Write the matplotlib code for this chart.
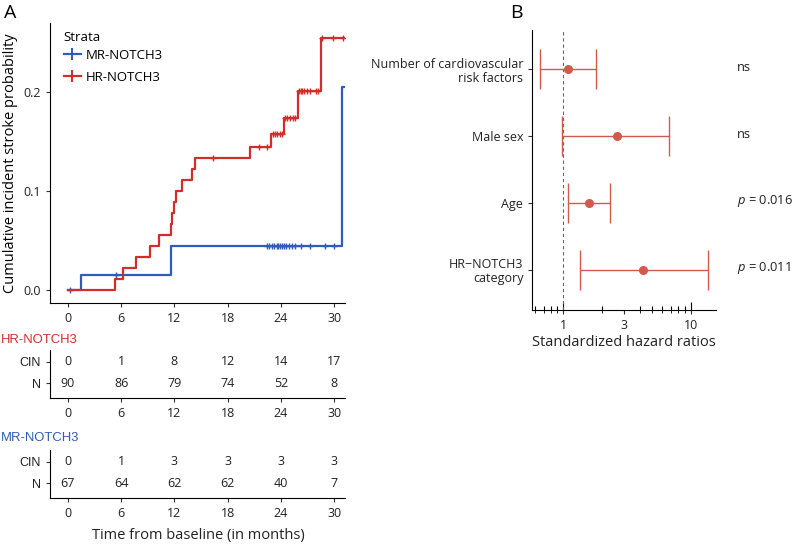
import numpy as np
import matplotlib
matplotlib.use("Agg")
import matplotlib.pyplot as plt
from matplotlib.ticker import FixedLocator, LogLocator, NullFormatter, FixedFormatter

plt.rcParams["font.family"] = ["Open Sans", "DejaVu Sans"]
plt.rcParams["mathtext.fontset"] = "custom"
plt.rcParams["mathtext.it"] = "Open Sans:italic"
plt.rcParams["mathtext.rm"] = "Open Sans"

BLUE = "#2f5cb8"
RED = "#cf2e2a"
SALMON = "#d05a4c"

# --- cumulative incidence curves ---
mr_times = [0, 1.46, 11.6, 30.85]
mr_cum = [0, 0.0149, 0.0448, 0.205]
mr_censor = [0.26, 5.4, 22.4, 22.7, 23.0, 23.2, 23.5, 23.7, 23.9, 24.1, 24.3,
             24.6, 24.9, 25.2, 25.6, 26.2, 27.3, 28.9, 30.0]
mr_end = 31.2

hr_times = [0, 5.26, 6.27, 7.7, 9.27, 10.25, 11.6, 11.7, 11.9, 12.2, 12.9,
            14.0, 14.3, 20.5, 22.86, 24.3, 25.9, 28.5]
hr_cum = [0, 0.0111, 0.0222, 0.0333, 0.0444, 0.0556, 0.0667, 0.0778, 0.0889,
          0.1, 0.111, 0.122, 0.133, 0.1445, 0.157, 0.173, 0.201, 0.2537]
hr_censor = [16.3, 21.5, 22.4, 23.1, 23.3, 23.6, 23.9, 24.1, 24.5, 24.7, 25.0,
             25.3, 25.6, 26.05, 26.2, 26.4, 26.6, 26.9, 27.3, 27.9, 28.2, 28.6,
             29.9, 31.0]
hr_end = 31.2

# --- risk tables ---
months = [0, 6, 12, 18, 24, 30]
hr_cin = [0, 1, 8, 12, 14, 17]
hr_n = [90, 86, 79, 74, 52, 8]
mr_cin = [0, 1, 3, 3, 3, 3]
mr_n = [67, 64, 62, 62, 40, 7]

# --- forest plot ---
factors = ["Number of cardiovascular\nrisk factors", "Male sex", "Age",
           "HR\u2212NOTCH3\ncategory"]
hr_est = [1.09, 2.65, 1.58, 4.22]
hr_lo = [0.656, 0.97, 1.08, 1.36]
hr_hi = [1.79, 6.78, 2.32, 13.6]
p_labels = ["ns", "ns", "$p$ = 0.016", "$p$ = 0.011"]

W, H = 793, 544
fig = plt.figure(figsize=(W / 100, H / 100), dpi=100)


def px_axes(l, t, r, b):
    return fig.add_axes([l / W, 1 - b / H, (r - l) / W, (b - t) / H])


def step_at(times, cum, t):
    idx = np.searchsorted(times, t, side="right") - 1
    return np.asarray(cum)[idx]


TICK_FS = 9
ax = px_axes(50, 23, 345, 303)
for times, cum, cens, end, col, lab in [
    (mr_times, mr_cum, mr_censor, mr_end, BLUE, "MR-NOTCH3"),
    (hr_times, hr_cum, hr_censor, hr_end, RED, "HR-NOTCH3"),
]:
    ax.step(times + [end], cum + [cum[-1]], where="post", color=col, lw=1.6)
    ax.plot(cens, step_at(times, cum, cens), ls="none", marker="+", ms=5,
            mew=1, color=col)
    ax.plot([], [], color=col, lw=1.6, marker="+", ms=9, mew=1.4, label=lab)

ax.set_xlim(-2.0, 31.2)
ax.set_ylim(-0.013, 0.269)
ax.set_xticks(months)
ax.set_yticks([0.0, 0.1, 0.2])
ax.set_yticklabels(["0.0", "0.1", "0.2"])
ax.set_ylabel("Cumulative incident stroke probability", fontsize=10.5, labelpad=4)
for s in ["top", "right"]:
    ax.spines[s].set_visible(False)
ax.tick_params(labelsize=TICK_FS, length=3, color="#333333", labelcolor="#222222")
leg = ax.legend(title="Strata", loc="upper left", bbox_to_anchor=(0.015, 1.003),
                frameon=False, fontsize=9.5, title_fontsize=9.5, labelspacing=0.7,
                handlelength=1.3, handletextpad=0.35, alignment="left",
                borderaxespad=0.3)
leg._legend_box.sep = 3

table_font = ["Liberation Sans", "DejaVu Sans"]
for (top, bot, cin, n, col, name, ty) in [
    (350, 398, hr_cin, hr_n, RED, "HR-NOTCH3", 338),
    (450, 498, mr_cin, mr_n, BLUE, "MR-NOTCH3", 436),
]:
    t = px_axes(50, top, 345, bot)
    for m, c, k in zip(months, cin, n):
        t.text(m, 2, str(c), ha="center", va="center", fontsize=TICK_FS, color="#222222")
        t.text(m, 1, str(k), ha="center", va="center", fontsize=TICK_FS, color="#222222")
    t.set_xlim(-2.0, 31.2)
    t.set_ylim(0.32, 2.54)
    t.set_xticks(months)
    t.set_yticks([1, 2])
    t.set_yticklabels(["N", "CIN"], fontfamily=table_font, fontsize=8.7)
    for s in ["top", "right"]:
        t.spines[s].set_visible(False)
    t.tick_params(labelsize=TICK_FS, length=3, color="#333333", labelcolor="#222222")
    fig.text(1 / W, 1 - (ty + 2) / H, name, color=col, fontsize=9.4, va="center",
             ha="left", family=table_font)

fig.text(198 / W, 1 - 535 / H, "Time from baseline (in months)", ha="center",
         va="center", fontsize=10.5, color="#222222")

# --- panel B ---
bx = px_axes(532.3, 30, 716, 310)
ypos = np.arange(len(factors), 0, -1)
bx.axvline(1, color="#666666", ls=(0, (3, 2.5)), lw=0.8, zorder=1)
err = [np.array(hr_est) - np.array(hr_lo), np.array(hr_hi) - np.array(hr_est)]
bx.errorbar(hr_est, ypos, xerr=err, fmt="o", color=SALMON, ms=5.5,
            elinewidth=1, capsize=14.5, capthick=1, zorder=3)
bx.set_xscale("log")
bx.set_xlim(0.571, 15.8)
bx.set_ylim(0.4, 4.59)
bx.set_yticks(ypos)
bx.set_yticklabels(factors, fontsize=8.8, color="#222222", linespacing=1.1)
bx.xaxis.set_major_locator(FixedLocator([1, 3, 10]))
bx.xaxis.set_major_formatter(FixedFormatter(["1", "3", "10"]))
bx.xaxis.set_minor_locator(LogLocator(base=10, subs=np.arange(2, 10)))
bx.xaxis.set_minor_formatter(NullFormatter())
bx.tick_params(axis="x", which="minor", direction="in", length=3, width=0.8)
bx.tick_params(which="major", labelsize=TICK_FS, length=3, color="#333333",
               labelcolor="#222222")
sec = bx.secondary_xaxis("bottom")
sec.set_xticks([1, 10])
sec.tick_params(direction="in", length=6, width=0.8, labelbottom=False)
sec.spines["bottom"].set_visible(False)
bx.set_xlabel("Standardized hazard ratios", fontsize=10.5, color="#222222",
              labelpad=2)
for s in ["top", "right"]:
    bx.spines[s].set_visible(False)
for yv, lab in zip(ypos, p_labels):
    bx.text(1.113, yv + 0.03, lab, transform=bx.get_yaxis_transform(),
            ha="left", va="center", fontsize=9.3, color="#222222", clip_on=False)

fig.text(4 / W, 1 - 13 / H, "A", fontsize=14, va="center", ha="left")
fig.text(510 / W, 1 - 13 / H, "B", fontsize=14, va="center", ha="left")

fig.savefig("out.png", dpi=100)
